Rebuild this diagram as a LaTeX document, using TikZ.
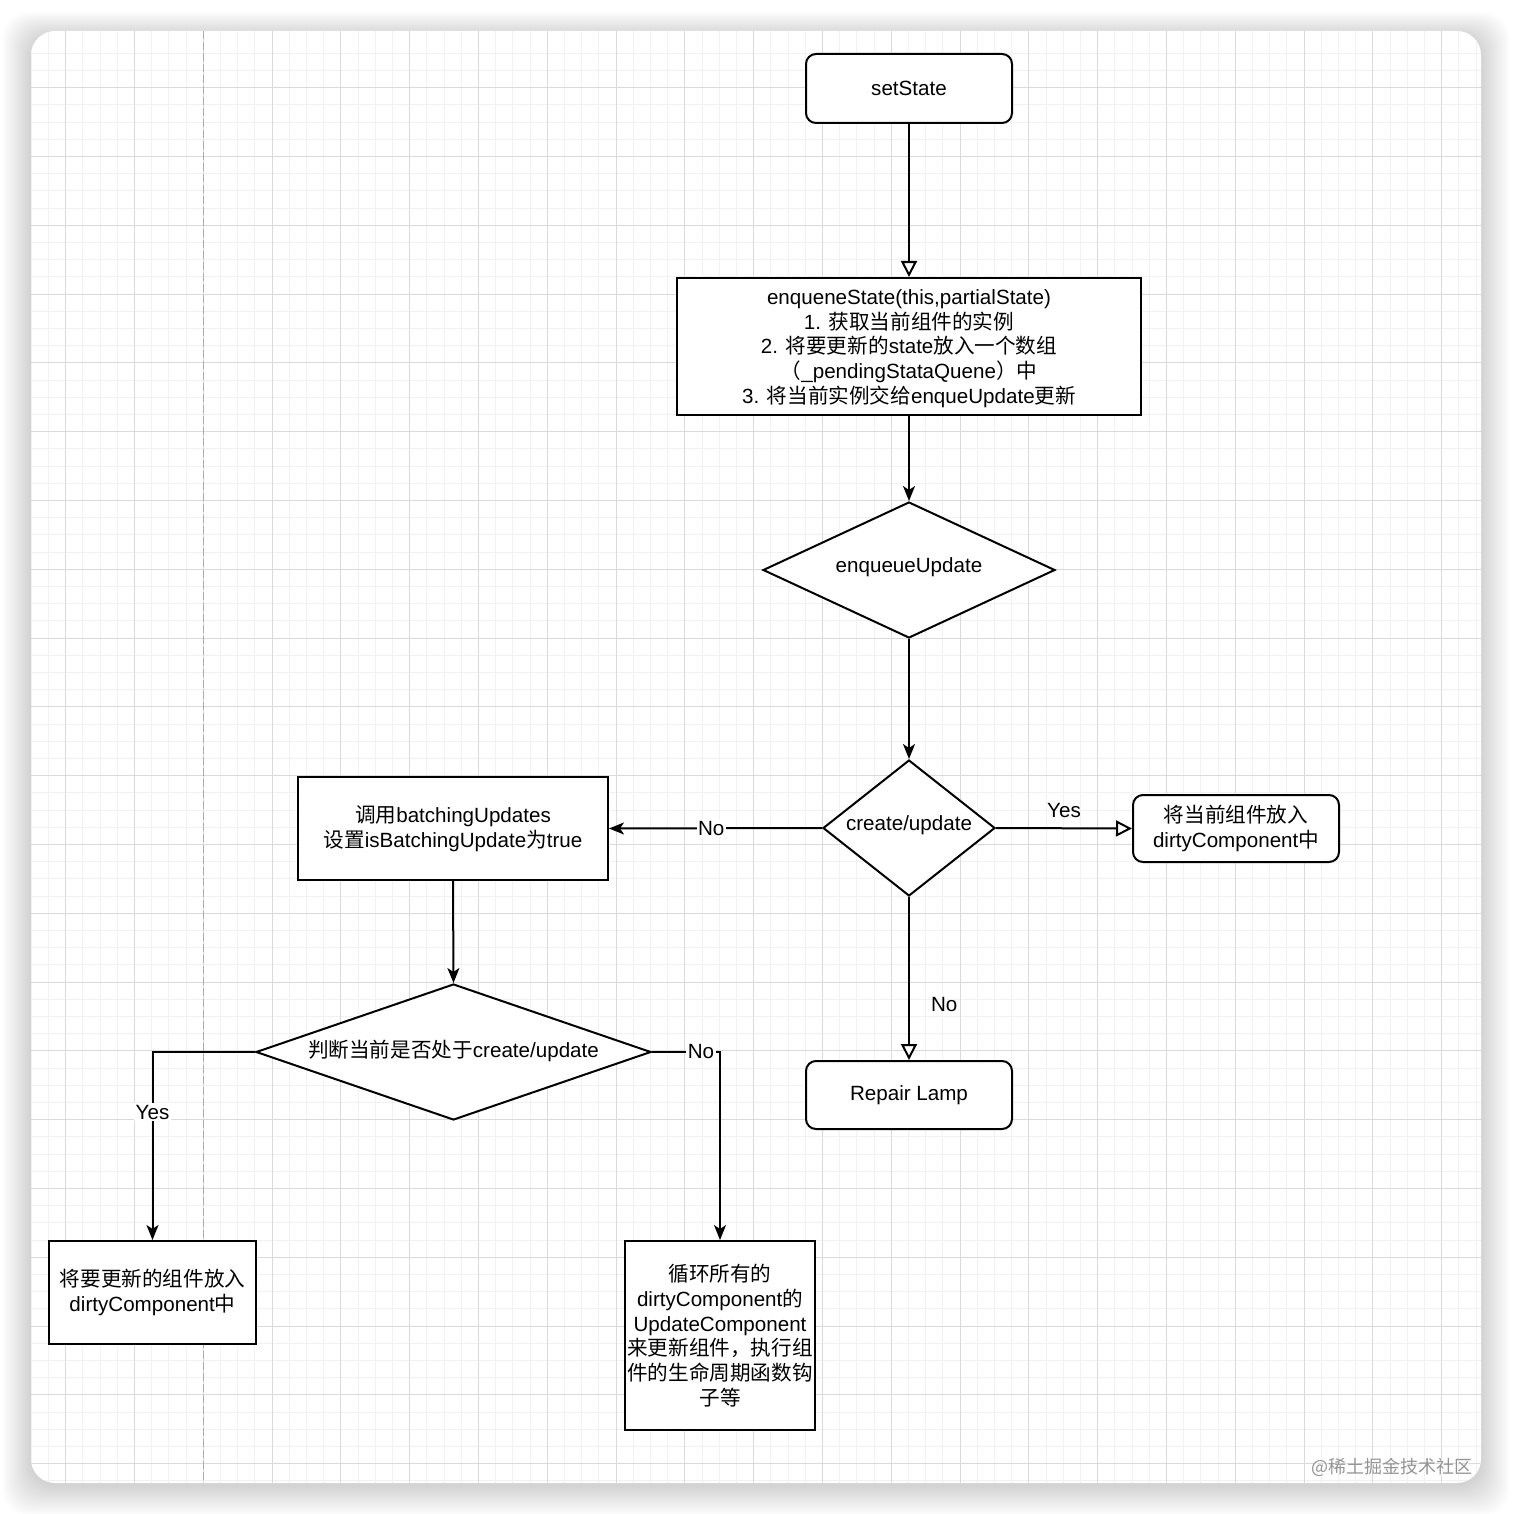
\documentclass[tikz,border=0pt]{standalone}
\usepackage{fontspec}
\setmainfont{Liberation Sans}
\newfontfamily\cjkfont{Noto Sans CJK SC}
\newcommand\zh[1]{{\cjkfont #1}}
\usetikzlibrary{shapes.geometric,arrows.meta,calc}
\definecolor{minorgrid}{HTML}{F1F1F1}
\definecolor{majorgrid}{HTML}{DADADA}
\definecolor{pagedash}{HTML}{ABABAB}
\tikzset{
  every node/.style={font=\fontsize{20.6}{24.7}\selectfont, text=black},
  boxbase/.style={draw=black, line width=2pt, fill=white, align=center, inner sep=0pt},
  box/.style={boxbase},
  rbox/.style={boxbase, rounded corners=10pt},
  dia/.style={draw=black, line width=2pt, fill=white, shape=diamond, inner sep=0pt},
  dtext/.style={align=center, inner sep=0pt},
  conn/.style={draw=black, line width=2pt},
  filledarrow/.style={conn, -{Stealth[length=15pt,width=12pt,inset=4pt]}},
  openarrow/.style={conn, -{Triangle[length=16pt,width=16pt,fill=white,line width=2pt]}},
  elabel/.style={fill=white, inner sep=1.5pt},
}
\begin{document}
\begin{tikzpicture}[x=1pt,y=-1pt]
\useasboundingbox (0,0) rectangle (1512,1514);
\fill[white] (0,0) rectangle (1512,1514);
% shadow of the card
\foreach \i in {1,...,22}{
  \fill[black, opacity=0.007, rounded corners=26pt]
    ($(31,36)+(-\i*1.3,-\i*1.1)$) rectangle ($(1481,1485)+(\i*1.3,\i*1.4)$);
}
% card
\fill[white, rounded corners=24pt] (31,31) rectangle (1481,1483);
\begin{scope}
  \clip[rounded corners=24pt] (31,31) rectangle (1481,1483);
  \foreach \k in {-2,...,84}{
    \draw[minorgrid, line width=1pt] ({65.7+\k*17.2},31) -- ({65.7+\k*17.2},1483);
    \draw[minorgrid, line width=1pt] (31,{87.7+\k*17.2}) -- (1481,{87.7+\k*17.2});
  }
  \foreach \k in {-1,...,21}{
    \draw[majorgrid, line width=1pt] ({65.7+\k*68.8},31) -- ({65.7+\k*68.8},1483);
    \draw[majorgrid, line width=1pt] (31,{87.7+\k*68.8}) -- (1481,{87.7+\k*68.8});
  }
  \draw[pagedash, line width=1.3pt, dash pattern=on 8pt off 3pt] (203.3,31) -- (203.3,1483);
\end{scope}

% nodes
\node[rbox, minimum width=206, minimum height=69] (set) at (909,88.5) {setState};
\node[box, minimum width=464, minimum height=137] (enq) at (909,346.5) {};
\node[dtext] (enqt) at (909,348.5)
  {enqueneState(this,partialState)\\
   1. \zh{获取当前组件的实例}\\
   2. \zh{将要更新的}state\zh{放入一个数组}\\
   \zh{（}\_pendingStataQuene\zh{）中}\\
   3. \zh{将当前实例交给}enqueUpdate\zh{更新}};
\node[dia, minimum width=292, minimum height=136] (d1) at (909,570) {};
\node[dtext] (d1t) at (909,567) {enqueueUpdate};
\node[dia, minimum width=172, minimum height=136] (d2) at (909,828) {};
\node[dtext] (d2t) at (909,825) {create/update};
\node[box, minimum width=310, minimum height=103] (bu) at (453,828.5)
  {\zh{调用}batchingUpdates\\ \zh{设置}isBatchingUpdate\zh{为}true};
\node[rbox, minimum width=206, minimum height=67] (dc) at (1236,828.5)
  {\zh{将当前组件放入}\\ dirtyComponent\zh{中}};
\node[dia, minimum width=395, minimum height=136] (d3) at (453.5,1052) {};
\node[dtext] (d3t) at (453.5,1051) {\zh{判断当前是否处于}create/update};
\node[rbox, minimum width=206, minimum height=68] (rl) at (909,1095) {Repair Lamp};
\node[box, minimum width=207, minimum height=103] (bl) at (152.5,1292.5)
  {\zh{将要更新的组件放入}\\ dirtyComponent\zh{中}};
\node[box, minimum width=190, minimum height=189] (br) at (720,1335.5)
  {\zh{循环所有的}\\ dirtyComponent\zh{的}\\ UpdateComponent\\
   \zh{来更新组件，执行组}\\ \zh{件的生命周期函数钩}\\ \zh{子等}};

% connectors
\draw[openarrow] (set.south) -- (enq.north);
\draw[filledarrow] (enq.south) -- (d1.north);
\draw[filledarrow] (d1.south) -- (d2.north);
\draw[filledarrow] (d2.west) -- node[elabel, pos=0.52] (lno1) {No} (bu.east);
\draw[openarrow] (d2.east) -- node[pos=0.5, above=10pt, inner sep=0pt] (lyes1) {Yes} (dc.west);
\draw[openarrow] (d2.south) -- node[pos=0.66, anchor=west, xshift=21pt, inner sep=0pt] (lno2) {No} (rl.north);
\draw[filledarrow] (bu.south) -- (d3.north);
\draw[filledarrow] (d3.west) -| node[elabel, pos=0.66] (lyes2) {Yes} (bl.north);
\draw[filledarrow] (d3.east) -| node[elabel, pos=0.36] (lno3) {No} (br.north);

% watermark
\node[font=\cjkfont\fontsize{18}{20}\selectfont, text=white, anchor=east] (wm0) at (1477.5,1468) {@稀土掘金技术社区};
\node[font=\cjkfont\fontsize{18}{20}\selectfont, text=black!42, anchor=east] (wm) at (1476,1467) {@稀土掘金技术社区};
\end{tikzpicture}
\end{document}
